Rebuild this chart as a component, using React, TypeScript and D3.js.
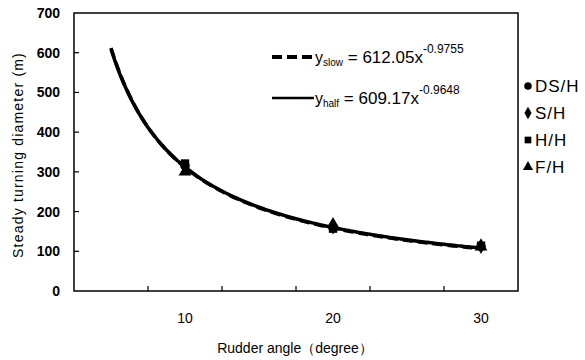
import React, { useEffect, useRef } from "react";
import * as d3 from "d3";

// rudder angles (degree), one category every 5 degrees
const CATEGORIES = [5, 10, 15, 20, 25, 30];
const X_LABELS = [10, 20, 30];
const Y_TICKS = [0, 100, 200, 300, 400, 500, 600, 700];

// measured steady turning diameters (m)
const ANGLES = [10, 20, 30];
const DS_H = [316, 159, 112];
const S_H = [312, 162, 113];
const H_H = [321, 157, 114];
const F_H = [300, 168, 111];

// power trendlines y = a * x^b (x = category index)
const SLOW_COEF = [612.05, -0.9755];
const HALF_COEF = [609.17, -0.9648];

const SERIES_NAMES = ["DS/H", "S/H", "H/H", "F/H"];

const FONT = "'Liberation Sans', Arial, sans-serif";

export default function App() {
    const svgRef = useRef<SVGSVGElement | null>(null);

    useEffect(() => {
        if (!svgRef.current) return;
        const svg = d3.select(svgRef.current);
        svg.selectAll("*").remove();

        const margin = { top: 13, right: 67, bottom: 69, left: 74 };
        const W = 585, H = 360;
        const width = W - margin.left - margin.right;
        const height = H - margin.top - margin.bottom;

        const step = 5;
        const x = d3.scaleLinear()
            .domain([CATEGORIES[0] - step / 2, CATEGORIES[CATEGORIES.length - 1] + step / 2])
            .range([margin.left, margin.left + width]);
        const y = d3.scaleLinear().domain([0, 700]).range([margin.top + height, margin.top]);

        // plot frame
        svg.append("rect")
            .attr("x", margin.left).attr("y", margin.top)
            .attr("width", width).attr("height", height)
            .attr("fill", "none").attr("stroke", "#000").attr("stroke-width", 1.5);

        // y ticks (inside) + labels
        const yAxis = svg.append("g");
        Y_TICKS.forEach(t => {
            if (t > 0 && t < 700) {
                yAxis.append("line")
                    .attr("x1", margin.left).attr("x2", margin.left + 5)
                    .attr("y1", y(t)).attr("y2", y(t))
                    .attr("stroke", "#000").attr("stroke-width", 1.2);
            }
            yAxis.append("text")
                .attr("x", margin.left - 14).attr("y", y(t))
                .attr("dy", "0.36em")
                .attr("text-anchor", "end")
                .style("font-family", FONT).style("font-weight", "bold").style("font-size", "14px")
                .text(t);
        });

        // x ticks on category boundaries (inside)
        const bounds = CATEGORIES.slice(0, -1).map(c => c + step / 2);
        svg.append("g").selectAll("line")
            .data(bounds)
            .join("line")
            .attr("x1", d => x(d)).attr("x2", d => x(d))
            .attr("y1", y(0)).attr("y2", y(0) - 5)
            .attr("stroke", "#000").attr("stroke-width", 1.2);

        svg.append("g").selectAll("text")
            .data(X_LABELS)
            .join("text")
            .attr("x", d => x(d)).attr("y", y(0) + 27)
            .attr("dy", "0.36em")
            .attr("text-anchor", "middle")
            .style("font-family", FONT).style("font-size", "14px")
            .text(d => d);

        // axis titles
        svg.append("text")
            .attr("x", 295).attr("y", 348).attr("dy", "0.36em")
            .attr("text-anchor", "middle")
            .style("font-family", FONT).style("font-size", "14px")
            .text("Rudder angle（degree）");

        svg.append("text")
            .attr("transform", `translate(18,${155}) rotate(-90)`)
            .attr("dy", "0.36em")
            .attr("text-anchor", "middle")
            .style("font-family", FONT).style("font-size", "14px")
            .style("letter-spacing", "1.2px")
            .text("Steady turning diameter (m)");

        // trendlines
        const idx = d3.range(1, 6.001, 0.05);
        const curve = (coef: number[]) => d3.line<number>()
            .x(i => x(i * step))
            .y(i => y(coef[0] * Math.pow(i, coef[1])))
            .curve(d3.curveMonotoneX)(idx);

        svg.append("path").attr("d", curve(SLOW_COEF))
            .attr("fill", "none").attr("stroke", "#000").attr("stroke-width", 3.5)
            .attr("stroke-dasharray", "10,5");
        svg.append("path").attr("d", curve(HALF_COEF))
            .attr("fill", "none").attr("stroke", "#000").attr("stroke-width", 3.5);

        // markers
        const symbols = [d3.symbolCircle, d3.symbolDiamond, d3.symbolSquare, d3.symbolTriangle];
        const series = [DS_H, S_H, H_H, F_H];
        series.forEach((vals, s) => {
            svg.append("g").selectAll("path")
                .data(vals)
                .join("path")
                .attr("transform", (d, i) => `translate(${x(ANGLES[i])},${y(d)})`)
                .attr("d", d3.symbol(symbols[s], 70)())
                .attr("fill", "#000");
        });

        // equation legend
        const eq = svg.append("g").style("font-family", FONT);
        const rows = [
            { y: 57, dash: "10,5", sw: 4, sub: "slow", coef: SLOW_COEF },
            { y: 98, dash: null, sw: 2.5, sub: "half", coef: HALF_COEF },
        ];
        rows.forEach(r => {
            eq.append("line")
                .attr("x1", 272).attr("x2", 314).attr("y1", r.y).attr("y2", r.y)
                .attr("stroke", "#000").attr("stroke-width", r.sw)
                .attr("stroke-dasharray", r.dash);
            const t = eq.append("text").attr("x", 315).attr("y", r.y + 6)
                .style("font-size", "16px");
            t.append("tspan").text("y");
            t.append("tspan").attr("dy", 3).style("font-size", "10px").text(r.sub);
            t.append("tspan").attr("dy", -3).style("font-size", "17px")
                .text(` = ${r.coef[0].toFixed(2)}x`);
            t.append("tspan").attr("dy", -10).style("font-size", "12px").text(r.coef[1].toFixed(4));
        });

        // marker legend
        const leg = svg.append("g").style("font-family", FONT);
        SERIES_NAMES.forEach((name, i) => {
            const ly = 86 + i * 27;
            leg.append("path")
                .attr("transform", `translate(528,${ly})`)
                .attr("d", d3.symbol(symbols[i], 45)())
                .attr("fill", "#000");
            leg.append("text")
                .attr("x", 535).attr("y", ly).attr("dy", "0.36em")
                .style("font-size", "17px")
                .style("letter-spacing", "1px")
                .text(name);
        });
    }, []);

    return (
        <svg
            ref={svgRef}
            width={585}
            height={360}
            style={{ position: "absolute", left: 0, top: 0, background: "#fff" }}
        />
    );
}
